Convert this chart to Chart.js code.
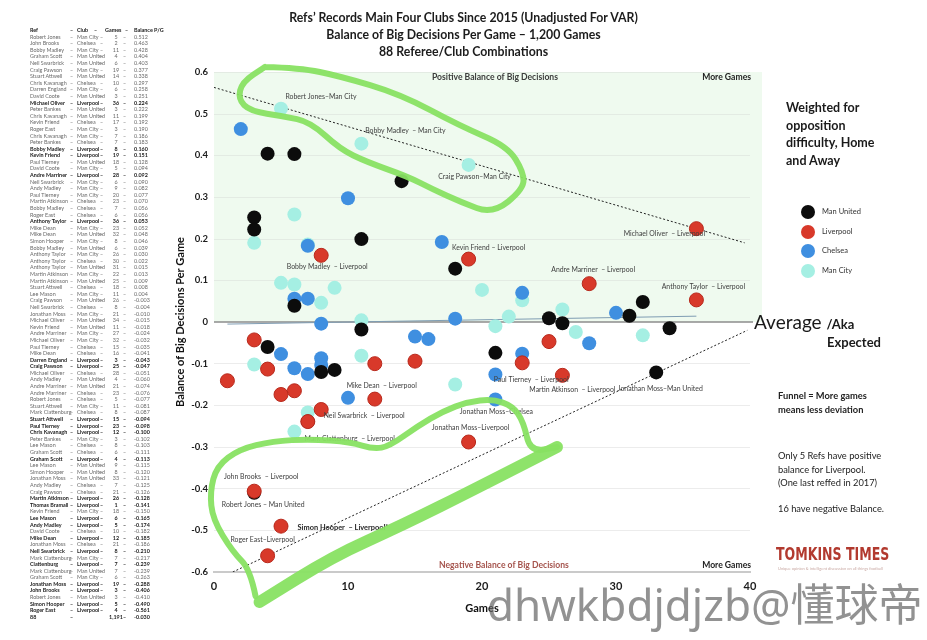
<!DOCTYPE html>
<html>
<head>
<meta charset="utf-8">
<script src="https://cdn.jsdelivr.net/npm/chart.js@4.4.1/dist/chart.umd.min.js"></script>
<style>
  body { margin:0; width:927px; height:640px; background:#fff; position:relative; overflow:hidden;
         font-family: Lato, "Noto Sans", sans-serif; color:#1a1a1a; }
  #chart { position:absolute; left:0; top:0; }
  .title { position:absolute; left:0; width:927px; text-align:center; font-weight:700; font-size:12.3px; line-height:16px; color:#1c1c1c; }
  #refTable { position:absolute; left:28px; top:27px; width:150px; font-size:5.4px; color:#6a6a6a; }
  .row { position:relative; height:6.6px; line-height:6.6px; white-space:nowrap; }
  .row span { position:absolute; top:0; }
  .row .g { width:16px; text-align:center; }
  .row.b { font-weight:700; color:#1a1a1a; }
  .note { position:absolute; left:786px; font-weight:700; font-size:12.5px; line-height:17.5px; color:#1a1a1a; }
  .legend { position:absolute; left:801px; width:90px; font-size:7.5px; color:#333; }
  .legend div { position:relative; height:19.5px; line-height:14px; white-space:nowrap; }
  .legend i { position:absolute; left:0; top:0; width:14px; height:14px; border-radius:50%; }
  .legend span { position:absolute; left:21px; top:0; }
  .small { position:absolute; left:778px; font-size:9.3px; line-height:13.5px; color:#222; white-space:nowrap; }
  .wm { position:absolute; left:487px; top:578px; font-family:"Noto Sans","Noto Sans CJK SC",sans-serif; font-size:44px; line-height:52px; color:rgba(100,100,100,0.7); white-space:nowrap; }
</style>
</head>
<body>
<canvas id="chart" width="927" height="640"></canvas>
<div class="title" style="top:10px">Refs’ Records Main Four Clubs Since 2015 (Unadjusted For VAR)</div>
<div class="title" style="top:27px">Balance of Big Decisions Per Game – 1,200 Games</div>
<div class="title" style="top:44px">88 Referee/Club Combinations</div>
<div id="refTable"></div>
<div class="note" style="top:99px">Weighted for<br>opposition<br>difficulty, Home<br>and Away</div>
<div class="legend" id="legend" style="top:205px"></div>
<div style="position:absolute;left:754px;top:310px;font-size:19px;color:#1a1a1a;white-space:nowrap;">Average <b style="font-size:13px;">/Aka</b></div>
<div style="position:absolute;left:827px;top:334px;font-size:13px;font-weight:700;color:#1a1a1a;">Expected</div>
<div class="small" style="top:389px;font-weight:700;">Funnel = More games<br>means less deviation</div>
<div class="small" style="top:449px;">Only 5 Refs have positive<br>balance for Liverpool.<br>(One last reffed in 2017)</div>
<div class="small" style="top:502px;">16 have negative Balance.</div>
<div style="position:absolute;left:776px;top:544px;font-family:'DejaVu Sans Condensed','Liberation Sans',sans-serif;font-weight:700;font-size:17px;color:#b23a2f;transform:scaleX(0.82);transform-origin:left top;white-space:nowrap;">TOMKINS TIMES</div>
<div style="position:absolute;left:778px;top:566px;font-size:4px;color:#c9a9a4;white-space:nowrap;">Unique opinion &amp; intelligent discussion on all things football</div>
<div class="wm">dhwkbdjdjzb@懂球帝</div>
<script>
// table rows: ref / club / games / balance per game
const refs = ['Robert Jones','John Brooks','Bobby Madley','Graham Scott','Neil Swarbrick','Craig Pawson','Stuart Attwell','Chris Kavanagh','Darren England','David Coote',
  'Michael Oliver','Peter Bankes','Chris Kavanagh','Kevin Friend','Roger East','Chris Kavanagh','Peter Bankes','Bobby Madley','Kevin Friend','Paul Tierney',
  'David Coote','Andre Marriner','Neil Swarbrick','Andy Madley','Paul Tierney','Martin Atkinson','Bobby Madley','Roger East','Anthony Taylor','Mike Dean',
  'Mike Dean','Simon Hooper','Bobby Madley','Anthony Taylor','Anthony Taylor','Anthony Taylor','Martin Atkinson','Martin Atkinson','Stuart Attwell','Lee Mason',
  'Craig Pawson','Neil Swarbrick','Jonathan Moss','Michael Oliver','Kevin Friend','Andre Marriner','Michael Oliver','Paul Tierney','Mike Dean','Darren England',
  'Craig Pawson','Michael Oliver','Andy Madley','Andre Marriner','Andre Marriner','Robert Jones','Stuart Attwell','Mark Clattenburg','Stuart Attwell','Paul Tierney',
  'Chris Kavanagh','Peter Bankes','Lee Mason','Graham Scott','Graham Scott','Lee Mason','Simon Hooper','Jonathan Moss','Andy Madley','Craig Pawson',
  'Martin Atkinson','Thomas Bramall','Kevin Friend','Lee Mason','Andy Madley','David Coote','Mike Dean','Jonathan Moss','Neil Swarbrick','Mark Clattenburg',
  'Clattenburg','Mark Clattenburg','Graham Scott','Jonathan Moss','John Brooks','Robert Jones','Simon Hooper','Roger East'];
const clubs = ['Man City','Chelsea','Man City','Man United','Man United','Man City','Man United','Chelsea','Man City','Man United',
  'Liverpool','Man United','Man United','Chelsea','Man City','Man City','Chelsea','Liverpool','Liverpool','Man United',
  'Man City','Liverpool','Man City','Man City','Man City','Chelsea','Chelsea','Chelsea','Liverpool','Man City',
  'Man United','Man City','Man United','Man City','Chelsea','Man United','Man City','Man United','Chelsea','Man City',
  'Man United','Chelsea','Man City','Man United','Man United','Man City','Man City','Chelsea','Chelsea','Liverpool',
  'Liverpool','Chelsea','Man United','Man United','Chelsea','Chelsea','Man City','Chelsea','Liverpool','Liverpool',
  'Liverpool','Man City','Chelsea','Chelsea','Liverpool','Man United','Man United','Man United','Chelsea','Chelsea',
  'Liverpool','Liverpool','Man City','Liverpool','Liverpool','Chelsea','Liverpool','Chelsea','Liverpool','Man City',
  'Liverpool','Man United','Man City','Liverpool','Liverpool','Man United','Liverpool','Liverpool'];
const games = [5,2,11,4,6,19,14,10,6,3,
  36,3,11,17,3,7,7,8,19,18,
  5,28,6,9,20,23,7,6,36,23,
  32,8,6,26,30,31,22,25,18,11,
  26,8,21,34,11,27,32,15,16,3,
  25,28,4,21,23,5,11,8,15,23,
  12,3,8,6,4,9,8,33,7,21,
  26,1,18,6,5,10,12,21,8,7,
  7,7,6,19,3,3,5,4];
const balance = [0.512,0.463,0.428,0.404,0.403,0.377,0.338,0.297,0.258,0.251,
  0.224,0.222,0.199,0.192,0.190,0.186,0.183,0.160,0.151,0.128,
  0.094,0.092,0.090,0.082,0.077,0.070,0.056,0.056,0.053,0.052,
  0.048,0.046,0.039,0.030,0.022,0.015,0.013,0.009,0.008,0.004,
  -0.003,-0.004,-0.010,-0.015,-0.018,-0.024,-0.032,-0.035,-0.041,-0.043,
  -0.047,-0.051,-0.060,-0.074,-0.076,-0.077,-0.081,-0.087,-0.094,-0.098,
  -0.100,-0.102,-0.103,-0.111,-0.113,-0.115,-0.120,-0.121,-0.125,-0.126,
  -0.128,-0.141,-0.150,-0.165,-0.174,-0.182,-0.185,-0.186,-0.210,-0.217,
  -0.239,-0.239,-0.263,-0.288,-0.406,-0.410,-0.490,-0.561];
const totalRow = ['88', '', '1,191', '-0.030'];

const clubNames = ['Man United', 'Liverpool', 'Chelsea', 'Man City'];
const clubColors = ['#0c0c0c', '#d8392a', '#3f8fe0', '#a5efe3'];

// dashed funnel and near-flat average trend
const funnelUpper = [{x: 0, y: 0.563}, {x: 39.6, y: 0.19}];
const funnelLower = [{x: 1.4, y: -0.6}, {x: 39.8, y: -0.02}];
const averageTrend = [{x: 1, y: -0.005}, {x: 36, y: 0.014}];

const yTicks = [0.6, 0.5, 0.4, 0.3, 0.2, 0.1, 0, -0.1, -0.2, -0.3, -0.4, -0.5, -0.6];
const xTicks = [0, 10, 20, 30, 40];

// named points in the plot
const pointNotes = [
  ['Robert Jones', 'Man City', 'Robert Jones–Man City'],
  ['Bobby Madley', 'Man City', 'Bobby Madley  – Man City'],
  ['Craig Pawson', 'Man City', 'Craig Pawson–Man City'],
  ['Michael Oliver', 'Liverpool', 'Michael Oliver  – Liverpool'],
  ['Kevin Friend', 'Liverpool', 'Kevin Friend – Liverpool'],
  ['Andre Marriner', 'Liverpool', 'Andre Marriner  – Liverpool'],
  ['Anthony Taylor', 'Liverpool', 'Anthony Taylor  – Liverpool'],
  ['Bobby Madley', 'Liverpool', 'Bobby Madley  – Liverpool'],
  ['Mike Dean', 'Liverpool', 'Mike Dean  – Liverpool'],
  ['Paul Tierney', 'Liverpool', 'Paul Tierney  – Liverpool'],
  ['Martin Atkinson', 'Liverpool', 'Martin Atkinson  – Liverpool'],
  ['Jonathan Moss', 'Man United', 'Jonathan Moss–Man United'],
  ['Neil Swarbrick', 'Liverpool', 'Neil Swarbrick  – Liverpool'],
  ['Jonathan Moss', 'Chelsea', 'Jonathan Moss–Chelsea'],
  ['Jonathan Moss', 'Liverpool', 'Jonathan Moss–Liverpool'],
  ['Clattenburg', 'Liverpool', 'Mark Clattenburg  – Liverpool'],
  ['John Brooks', 'Liverpool', 'John Brooks  – Liverpool'],
  ['Robert Jones', 'Man United', 'Robert Jones – Man United'],
  ['Simon Hooper', 'Liverpool', 'Simon Hooper  – Liverpool*'],
  ['Roger East', 'Liverpool', 'Roger East–Liverpool']
];
// label offsets from their point, px
const noteOffsets = [[40,-12],[44,-13],[6,12],[-32,5],[20,-11],[4,-14],[7,-13],[6,11],[7,-13],[9,17],
  [10,14],[4,16],[43,6],[1,12],[2,-14],[42,17],[7,-14],[9,12],[62,1],[-5,-16]];

// hand-drawn green highlight strokes, in chart units
const highlightTop = [[3.8,0.612],[6.4,0.61],[9.4,0.59],[13.9,0.547],[18.4,0.47],[21.9,0.422],[23.1,0.36],[23.1,0.319],
  [20.8,0.259],[18.4,0.288],[16.3,0.319],[14.4,0.35],[11.4,0.384],[9.4,0.415],[7.2,0.48],[5.2,0.494],[2.7,0.506],
  [1.8,0.535],[2.1,0.576],[3.8,0.612]];
const highlightBottom = [[3.1,-0.658],[2.7,-0.593],[1.4,-0.552],[-0.1,-0.473],[-0.3,-0.408],[0.2,-0.346],[1.9,-0.305],
  [4.4,-0.286],[7.2,-0.281],[10.2,-0.288],[11.9,-0.305],[13.1,-0.298],[15.2,-0.25],[17.1,-0.214],[18.9,-0.192],
  [20.8,-0.185],[22.3,-0.202],[23.1,-0.24],[23.6,-0.312]];
const highlightSweep = [[25.6,-0.3],[19.9,-0.394],[13.9,-0.49],[8.9,-0.562],[3.4,-0.672]];

// ---- table
const tbl = document.getElementById('refTable');
function addRow(cells, cls) {
  const r = document.createElement('div');
  r.className = 'row' + (cls ? ' ' + cls : '');
  r.innerHTML = `<span style="left:2px">${cells[0]}</span><span style="left:42px">–</span>` +
    `<span style="left:49px">${cells[1]}</span><span style="left:72px">${cells[1] ? '–' : ''}</span>` +
    `<span class="g" style="left:80px">${cells[2]}</span><span style="left:95px">–</span>` +
    `<span style="left:106px">${cells[3]}</span>`;
  tbl.appendChild(r);
}
(function header() {
  const r = document.createElement('div');
  r.className = 'row b';
  r.innerHTML = '<span style="left:2px">Ref</span><span style="left:42px">–</span><span style="left:49px">Club</span>' +
    '<span style="left:66px">–</span><span style="left:77px">Games</span><span style="left:97px">–</span><span style="left:106px">Balance P/G</span>';
  tbl.appendChild(r);
})();
refs.forEach((ref, i) => {
  addRow([ref, clubs[i], games[i], balance[i].toFixed(3)], clubs[i] === 'Liverpool' ? 'b' : '');
});
addRow(totalRow, 'b');

// ---- legend
const lg = document.getElementById('legend');
clubNames.forEach((c, i) => {
  lg.innerHTML += `<div><i style="background:${clubColors[i]}"></i><span>${c}</span></div>`;
});

// ---- chart
const datasets = clubNames.map((c, k) => ({
  label: c,
  data: refs.map((r, i) => ({x: games[i], y: balance[i], club: clubs[i]})).filter(p => p.club === c),
  backgroundColor: clubColors[k],
  borderColor: c === 'Liverpool' ? '#b8291c' : clubColors[k],
  borderWidth: c === 'Liverpool' ? 1 : 0,
  pointRadius: 7,
  order: [1, 0, 2, 3][k]
}));
const lineStyle = {showLine: true, pointRadius: 0, fill: false, order: 5};
datasets.push(Object.assign({label: 'upper', data: funnelUpper, borderColor: '#222', borderWidth: 1, borderDash: [2, 2]}, lineStyle));
datasets.push(Object.assign({label: 'lower', data: funnelLower, borderColor: '#222', borderWidth: 1, borderDash: [2, 2]}, lineStyle));
datasets.push(Object.assign({label: 'trend', data: averageTrend, borderColor: '#7f9db3', borderWidth: 1}, lineStyle));

const decor = {
  id: 'decor',
  beforeDatasetsDraw(chart) {
    const {ctx, chartArea: a, scales: {x, y}} = chart;
    const y0 = y.getPixelForValue(0);
    ctx.save();
    ctx.fillStyle = '#effaef';
    ctx.fillRect(a.left, a.top, a.right - a.left + 12, y0 - a.top);
    // redraw grid over tint
    ctx.strokeStyle = '#e3ebe3';
    ctx.lineWidth = 1;
    yTicks.forEach(v => {
      if (v <= 0) return;
      const py = Math.round(y.getPixelForValue(v)) + 0.5;
      ctx.beginPath(); ctx.moveTo(a.left, py); ctx.lineTo(a.right, py); ctx.stroke();
    });
    // average line
    ctx.strokeStyle = '#8d8d8d';
    ctx.lineWidth = 1.6;
    ctx.beginPath(); ctx.moveTo(a.left, y0); ctx.lineTo(a.right + 3, y0); ctx.stroke();
    // corner captions
    ctx.font = 'bold 8.6px Lato';
    ctx.textBaseline = 'middle';
    ctx.fillStyle = '#3c3c3c';
    ctx.textAlign = 'left';
    ctx.fillText('Positive Balance of Big Decisions', a.left + 218, a.top + 5);
    ctx.textAlign = 'right';
    ctx.fillStyle = '#222';
    ctx.fillText('More Games', a.right + 1, a.top + 5);
    ctx.fillText('More Games', a.right + 1, a.bottom - 7);
    ctx.textAlign = 'left';
    ctx.fillStyle = '#a5544d';
    ctx.fillText('Negative Balance of Big Decisions', a.left + 225, a.bottom - 7);
    ctx.restore();
  },
  afterDatasetsDraw(chart) {
    const {ctx, scales: {x, y}} = chart;
    ctx.save();
    ctx.textAlign = 'center';
    ctx.textBaseline = 'middle';
    pointNotes.forEach(([ref, club, text], n) => {
      const i = refs.findIndex((r, j) => r === ref && clubs[j] === club);
      if (i < 0) return;
      const px = x.getPixelForValue(games[i]) + noteOffsets[n][0];
      const py = y.getPixelForValue(balance[i]) + noteOffsets[n][1];
      const bold = text.endsWith('*');
      ctx.font = (bold ? 'bold 7.4px' : '6.9px') + ' Lato';
      ctx.fillStyle = bold ? '#1e1e1e' : '#404040';
      ctx.fillText(text, px, py);
    });
    // green marker strokes
    ctx.strokeStyle = 'rgba(136,226,98,0.95)';
    ctx.lineCap = 'round';
    ctx.lineJoin = 'round';
    function stroke(pts, w) {
      const p = pts.map(([gx, gy]) => [x.getPixelForValue(gx), y.getPixelForValue(gy)]);
      ctx.lineWidth = w;
      ctx.beginPath();
      ctx.moveTo(p[0][0], p[0][1]);
      for (let k = 1; k < p.length - 1; k++) {
        ctx.quadraticCurveTo(p[k][0], p[k][1], (p[k][0] + p[k + 1][0]) / 2, (p[k][1] + p[k + 1][1]) / 2);
      }
      ctx.lineTo(p[p.length - 1][0], p[p.length - 1][1]);
      ctx.stroke();
    }
    stroke(highlightTop, 6);
    stroke(highlightBottom.concat([highlightSweep[0]]), 6);
    stroke(highlightSweep, 12);
    ctx.restore();
  }
};

new Chart(document.getElementById('chart'), {
  type: 'scatter',
  data: {datasets},
  plugins: [decor],
  options: {
    responsive: false,
    animation: false,
    devicePixelRatio: 1,
    layout: {padding: {left: 174, right: 177, top: 72, bottom: 0}},
    plugins: {legend: {display: false}, tooltip: {enabled: false}},
    scales: {
      x: {
        type: 'linear', min: 0, max: 40,
        afterFit: s => { s.height = 68; },
        afterBuildTicks: s => { s.ticks = xTicks.map(v => ({value: v})); },
        grid: {display: false, drawTicks: false},
        border: {display: true, color: '#cacaca', width: 2},
        ticks: {padding: 8, color: '#1c1c1c', font: {family: 'Lato', size: 11, weight: 'bold'}},
        title: {display: true, text: 'Games', color: '#111', padding: {top: 0, bottom: 25},
          font: {family: 'Lato', size: 11, weight: 'bold'}}
      },
      y: {
        type: 'linear', min: -0.6, max: 0.6,
        afterFit: s => { s.width = 40; },
        afterBuildTicks: s => { s.ticks = yTicks.map(v => ({value: v})); },
        grid: {drawTicks: false, color: c => (c.tick && c.tick.value === 0) ? 'rgba(0,0,0,0)' : '#ececec', lineWidth: 1},
        border: {display: false},
        ticks: {padding: 6, color: '#1c1c1c', font: {family: 'Lato', size: 9.5, weight: 'bold'},
          callback: v => v === 0 ? '0' : v.toFixed(1)},
        title: {display: true, text: 'Balance of Big Decisions Per Game', color: '#111', padding: {top: 0, bottom: 0},
          font: {family: 'Lato', size: 11, weight: 'bold'}}
      }
    }
  }
});
</script>
</body>
</html>
